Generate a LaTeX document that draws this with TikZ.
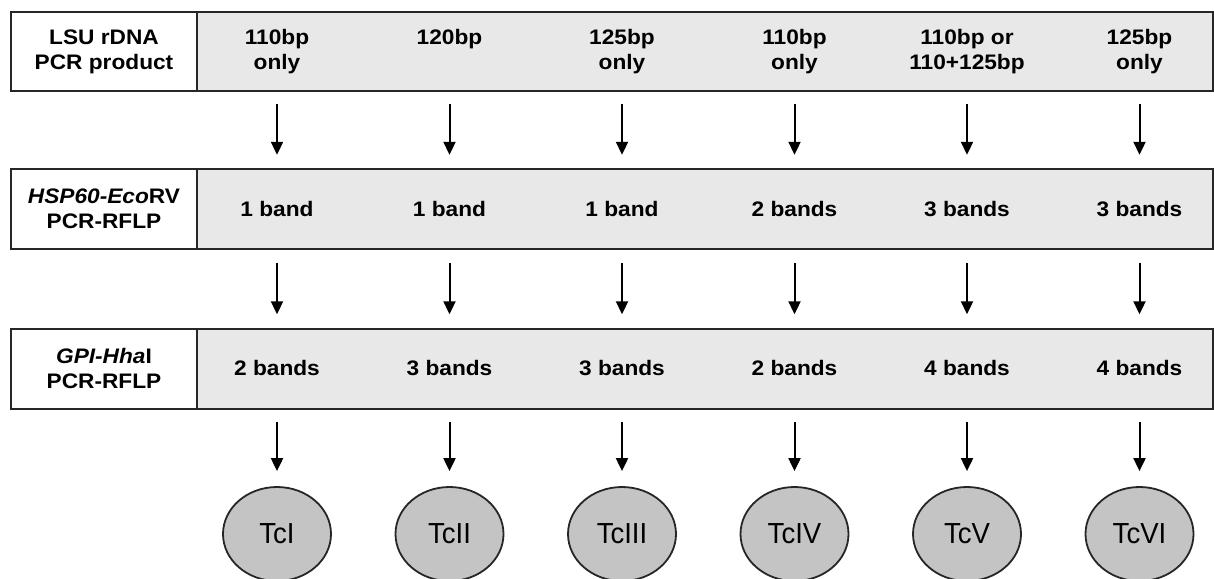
\documentclass[tikz,border=0pt]{standalone}
\usepackage{fontspec}
\setmainfont{Liberation Sans}
\newfontfamily\widefont[FakeStretch=1.08]{Liberation Sans}
\newfontfamily\narrowfont[FakeStretch=0.95]{Liberation Sans}
\usepackage{tikz}
\usetikzlibrary{positioning}
\usetikzlibrary{arrows.meta}
\usetikzlibrary{shapes.geometric}
\usepackage{xcolor}
\definecolor{cellgray}{HTML}{E8E8E8}
\definecolor{ovalgray}{HTML}{C4C4C4}
\definecolor{edgegray}{HTML}{262626}

\begin{document}
\begin{tikzpicture}[x=1pt, y=1pt,
  rowtext/.style={font=\widefont\fontsize{21}{25}\selectfont\bfseries, align=center},
  labelbox/.style={draw=edgegray, line width=2pt, fill=white, minimum width=186pt, rowtext},
  rowbox/.style={draw=edgegray, line width=2pt, fill=cellgray, minimum width=1016pt},
  cell/.style={rowtext, minimum width=160pt, inner sep=0pt, execute at begin node=\vphantom{3}},
  typeoval/.style={draw=edgegray, line width=1.8pt, fill=ovalgray, ellipse,
    minimum width=108pt, minimum height=94pt, inner sep=0pt,
    font=\narrowfont\fontsize{29}{30}\selectfont},
  flow/.style={line width=2pt, -{Triangle[length=13pt, width=12pt]}}]
  \useasboundingbox (0,0) rectangle (1214,-578);

  % row boxes
  \node [rowbox, minimum height=79pt] (r1) at (705,-51.5) {};
  \node [labelbox, minimum height=79pt] (l1) at (104,-51.5) {LSU rDNA\\PCR product};
  \node [rowbox, minimum height=80pt] (r2) at (705,-209) {};
  \node [labelbox, minimum height=80pt] (l2) at (104,-209) {\textit{HSP60-Eco}RV\\PCR-RFLP};
  \node [rowbox, minimum height=80pt] (r3) at (705,-368.5) {};
  \node [labelbox, minimum height=80pt] (l3) at (104,-368.5) {\textit{GPI-Hha}I\\PCR-RFLP};

  % LSU rDNA row
  \node [cell, minimum height=79pt] (a1) at (277,-51.5) {110bp\\only};
  \node [cell, minimum height=79pt] (a2) at (449.5,-51.5) {120bp\\\vphantom{y}};
  \node [cell, minimum height=79pt] (a3) at (622,-51.5) {125bp\\only};
  \node [cell, minimum height=79pt] (a4) at (794.5,-51.5) {110bp\\only};
  \node [cell, minimum height=79pt] (a5) at (967,-51.5) {110bp or\\110+125bp};
  \node [cell, minimum height=79pt] (a6) at (1139.5,-51.5) {125bp\\only};

  % HSP60 row
  \node [cell, minimum height=80pt] (b1) at (277,-209) {1 band};
  \node [cell, minimum height=80pt] (b2) at (449.5,-209) {1 band};
  \node [cell, minimum height=80pt] (b3) at (622,-209) {1 band};
  \node [cell, minimum height=80pt] (b4) at (794.5,-209) {2 bands};
  \node [cell, minimum height=80pt] (b5) at (967,-209) {3 bands};
  \node [cell, minimum height=80pt] (b6) at (1139.5,-209) {3 bands};

  % GPI row
  \node [cell, minimum height=80pt] (c1) at (277,-368.5) {2 bands};
  \node [cell, minimum height=80pt] (c2) at (449.5,-368.5) {3 bands};
  \node [cell, minimum height=80pt] (c3) at (622,-368.5) {3 bands};
  \node [cell, minimum height=80pt] (c4) at (794.5,-368.5) {2 bands};
  \node [cell, minimum height=80pt] (c5) at (967,-368.5) {4 bands};
  \node [cell, minimum height=80pt] (c6) at (1139.5,-368.5) {4 bands};

  % DTU ovals
  \node [typeoval] (tc1) at (277,-534) {TcI};
  \node [typeoval] (tc2) at (449.5,-534) {TcII};
  \node [typeoval] (tc3) at (622,-534) {TcIII};
  \node [typeoval] (tc4) at (794.5,-534) {TcIV};
  \node [typeoval] (tc5) at (967,-534) {TcV};
  \node [typeoval] (tc6) at (1139.5,-534) {TcVI};

  \foreach \i in {1,...,6} {
    \draw [flow, shorten <=13pt, shorten >=14pt] (a\i.south) -- (b\i.north);
    \draw [flow, shorten <=14pt, shorten >=14pt] (b\i.south) -- (c\i.north);
    \draw [flow, shorten <=13pt, shorten >=15pt] (c\i.south) -- (tc\i.north);
  }
\end{tikzpicture}
\end{document}
